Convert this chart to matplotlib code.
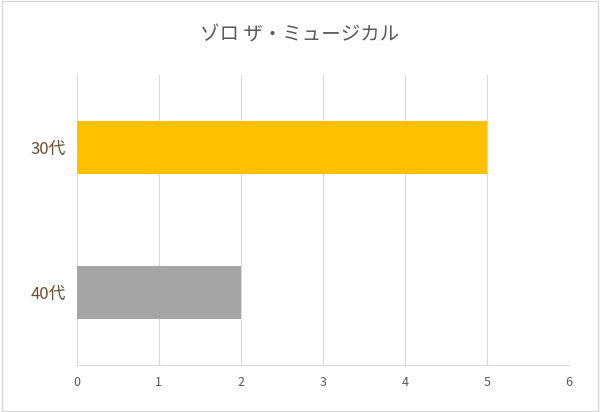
import matplotlib
matplotlib.use("Agg")
import matplotlib.pyplot as plt
from matplotlib.patches import Rectangle

plt.rcParams['font.family'] = ['Noto Sans CJK JP', 'DejaVu Sans']

categories = ['40代', '30代']
values = [2, 5]
colors = ['#a5a5a5', '#ffc000']
title = 'ゾロ ザ・ミュージカル'

fig = plt.figure(figsize=(6, 4.12), dpi=100)
ax = fig.add_axes([0.128, 0.114, 0.82, 0.704])
ax.barh(range(len(categories)), values, height=0.36, color=colors, zorder=3)
ax.set_xlim(0, 6)
ax.set_ylim(-0.5, 1.5)
ax.set_xticks(range(0, 7))
ax.set_yticks(range(len(categories)))
ax.set_yticklabels(categories, fontsize=12, color='#6b4c2e')
ax.tick_params(axis='x', labelsize=9, colors='#595959', length=0, pad=8)
ax.tick_params(axis='y', length=0, pad=8)
ax.grid(axis='x', color='#d9d9d9', linewidth=0.8, zorder=0)
for s in ['top', 'right', 'left']:
    ax.spines[s].set_visible(False)
ax.spines['bottom'].set_color('#d9d9d9')
fig.text(0.5, 0.915, title, ha='center', va='center', fontsize=14, color='#595959')
fig.patches.append(Rectangle((0.003, 0.003), 0.994, 0.994, transform=fig.transFigure,
                             fill=False, edgecolor='#d9d9d9', linewidth=1))
fig.savefig('out.png', dpi=100)
